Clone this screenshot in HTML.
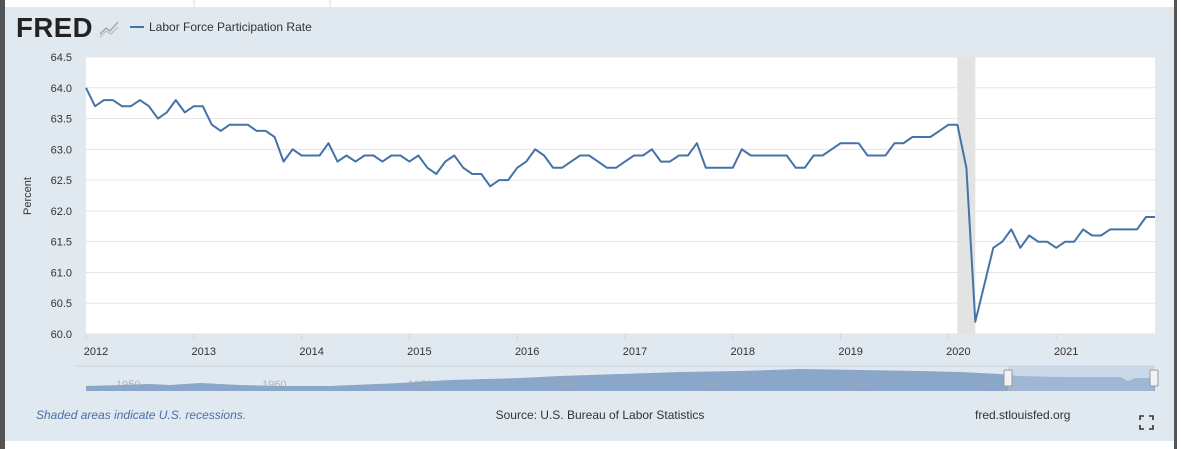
<!DOCTYPE html>
<html><head><meta charset="utf-8"><style>
html,body{margin:0;padding:0;width:1181px;height:449px;overflow:hidden;background:#fff;font-family:"Liberation Sans",sans-serif}
</style></head><body>
<svg width="1181" height="449" viewBox="0 0 1181 449" xmlns="http://www.w3.org/2000/svg">
<rect x="0" y="0" width="1181" height="449" fill="#fff"/>
<line x1="194" y1="0" x2="194" y2="7" stroke="#ddd"/>
<line x1="330" y1="0" x2="330" y2="7" stroke="#ddd"/>
<rect x="0" y="0" width="5" height="449" fill="#555"/>
<rect x="1174" y="0" width="3" height="449" fill="#555"/>
<rect x="5" y="7" width="1169" height="434" fill="#e1e9f0"/>
<text x="16" y="37" font-size="28" font-weight="bold" fill="#222" letter-spacing="0.5" textLength="77" lengthAdjust="spacingAndGlyphs">FRED</text>
<polyline points="100,34 106,28 110,31 118,22" fill="none" stroke="#999" stroke-width="1.2"/>
<polyline points="100,37 106,31 111,34 118,27" fill="none" stroke="#bbb" stroke-width="1.2"/>
<line x1="130" y1="27" x2="144" y2="27" stroke="#4572a7" stroke-width="2"/>
<text x="149" y="31" font-size="12" fill="#333">Labor Force Participation Rate</text>
<rect x="86" y="57" width="1069" height="277" fill="#fff"/>
<g id="grid"></g>
<g id="rec"></g>
<g id="ylab"></g>
<g id="xlab"></g>
<text transform="translate(31,196) rotate(-90)" text-anchor="middle" font-size="11" fill="#333">Percent</text>
<path id="line" fill="none" stroke="#4572a7" stroke-width="2" stroke-linejoin="round"/>
<g>
<line x1="75" y1="366" x2="1155" y2="366" stroke="#c8d2dc"/>
<path d="M86,386 L120,385 L150,384 L170,385 L200,383 L240,385 L280,386 L330,386 L400,383 L450,380 L520,378 L560,376 L620,374 L680,372 L740,371 L800,369 L860,370 L920,371 L960,372 L1000,374 L1020,376 L1060,377 L1120,377 L1128,381 L1135,378 L1155,378 L1155,391 L86,391 Z" fill="#8aa6c8"/>
<rect x="1008" y="366" width="146" height="25" fill="#b5c8e0" opacity="0.5"/>
<g font-size="11" fill="#a0a8b0" opacity="0.8">
<text x="116" y="388">1950</text><text x="262" y="388">1960</text><text x="408" y="388">1970</text><text x="554" y="388">1980</text><text x="700" y="388">1990</text><text x="846" y="388">2000</text><text x="984" y="388">2010</text></g>
<rect x="1004" y="370" width="8" height="16" fill="#f2f2f2" stroke="#999" rx="1"/>
<rect x="1150" y="370" width="8" height="16" fill="#f2f2f2" stroke="#999" rx="1"/>
</g>
<text x="36" y="419" font-size="12" font-style="italic" fill="#4a6fa5">Shaded areas indicate U.S. recessions.</text>
<text x="600" y="419" text-anchor="middle" font-size="12" fill="#333">Source: U.S. Bureau of Labor Statistics</text>
<text x="975" y="419" font-size="12" fill="#333">fred.stlouisfed.org</text>
<path d="M1140,420 v-4 h4 M1149,416 h4 v4 M1153,425 v4 h-4 M1144,429 h-4 v-4" fill="none" stroke="#333" stroke-width="1.6"/>
</svg>
<script>
const values = [64.0,63.7,63.8,63.8,63.7,63.7,63.8,63.7,63.5,63.6,63.8,63.6,
63.7,63.7,63.4,63.3,63.4,63.4,63.4,63.3,63.3,63.2,62.8,63.0,
62.9,62.9,62.9,63.1,62.8,62.9,62.8,62.9,62.9,62.8,62.9,62.9,
62.8,62.9,62.7,62.6,62.8,62.9,62.7,62.6,62.6,62.4,62.5,62.5,
62.7,62.8,63.0,62.9,62.7,62.7,62.8,62.9,62.9,62.8,62.7,62.7,
62.8,62.9,62.9,63.0,62.8,62.8,62.9,62.9,63.1,62.7,62.7,62.7,
62.7,63.0,62.9,62.9,62.9,62.9,62.9,62.7,62.7,62.9,62.9,63.0,
63.1,63.1,63.1,62.9,62.9,62.9,63.1,63.1,63.2,63.2,63.2,63.3,
63.4,63.4,62.7,60.2,60.8,61.4,61.5,61.7,61.4,61.6,61.5,61.5,
61.4,61.5,61.5,61.7,61.6,61.6,61.7,61.7,61.7,61.7,61.9,61.9];
const startYear = 2012;
const yTicks = [60.0,60.5,61.0,61.5,62.0,62.5,63.0,63.5,64.0,64.5];
const xTickYears = [2012,2013,2014,2015,2016,2017,2018,2019,2020,2021];
const recessionStart = 97, recessionEnd = 99; // month indices

const X0=86, X1=1155, Y0=334, Y1=57;
const yMin=60, yMax=64.5;
const x = i => X0 + (X1-X0)*i/(values.length-1);
const y = v => Y0 - (v-yMin)/(yMax-yMin)*(Y0-Y1);
const NS="http://www.w3.org/2000/svg";
const mk=(t,a)=>{const e=document.createElementNS(NS,t);for(const k in a)e.setAttribute(k,a[k]);return e;};

const grid=document.getElementById('grid'), ylab=document.getElementById('ylab'), xlab=document.getElementById('xlab');
yTicks.forEach(v=>{
  const l=mk('line',{x1:X0,x2:X1,y1:y(v),y2:y(v),stroke:'#e6e6e6'});
  
  
  grid.appendChild(l);
  const t=mk('text',{x:72,y:y(v)+4,'text-anchor':'end','font-size':11,fill:'#333'});
  t.textContent=v.toFixed(1);
  
  
  ylab.appendChild(t);
});
xTickYears.forEach(yr=>{
  const i=(yr-startYear)*12;
  const tk=mk('line',{x1:x(i),x2:x(i),y1:Y0,y2:Y0+6,stroke:'#ccd6eb'});
  
  
  xlab.appendChild(tk);
  const t=mk('text',{x:x(i)+10,y:355,'text-anchor':'middle','font-size':11,fill:'#333'});
  t.textContent=yr;
  
  
  xlab.appendChild(t);
});
const r=mk('rect',{x:x(recessionStart),y:Y1,width:x(recessionEnd)-x(recessionStart),height:Y0-Y1,fill:'#e3e3e3'});


document.getElementById('rec').appendChild(r);
document.getElementById('line').setAttribute('d',values.map((v,i)=>(i?'L':'M')+x(i).toFixed(1)+','+y(v).toFixed(1)).join(' '));
</script>
</body></html>
